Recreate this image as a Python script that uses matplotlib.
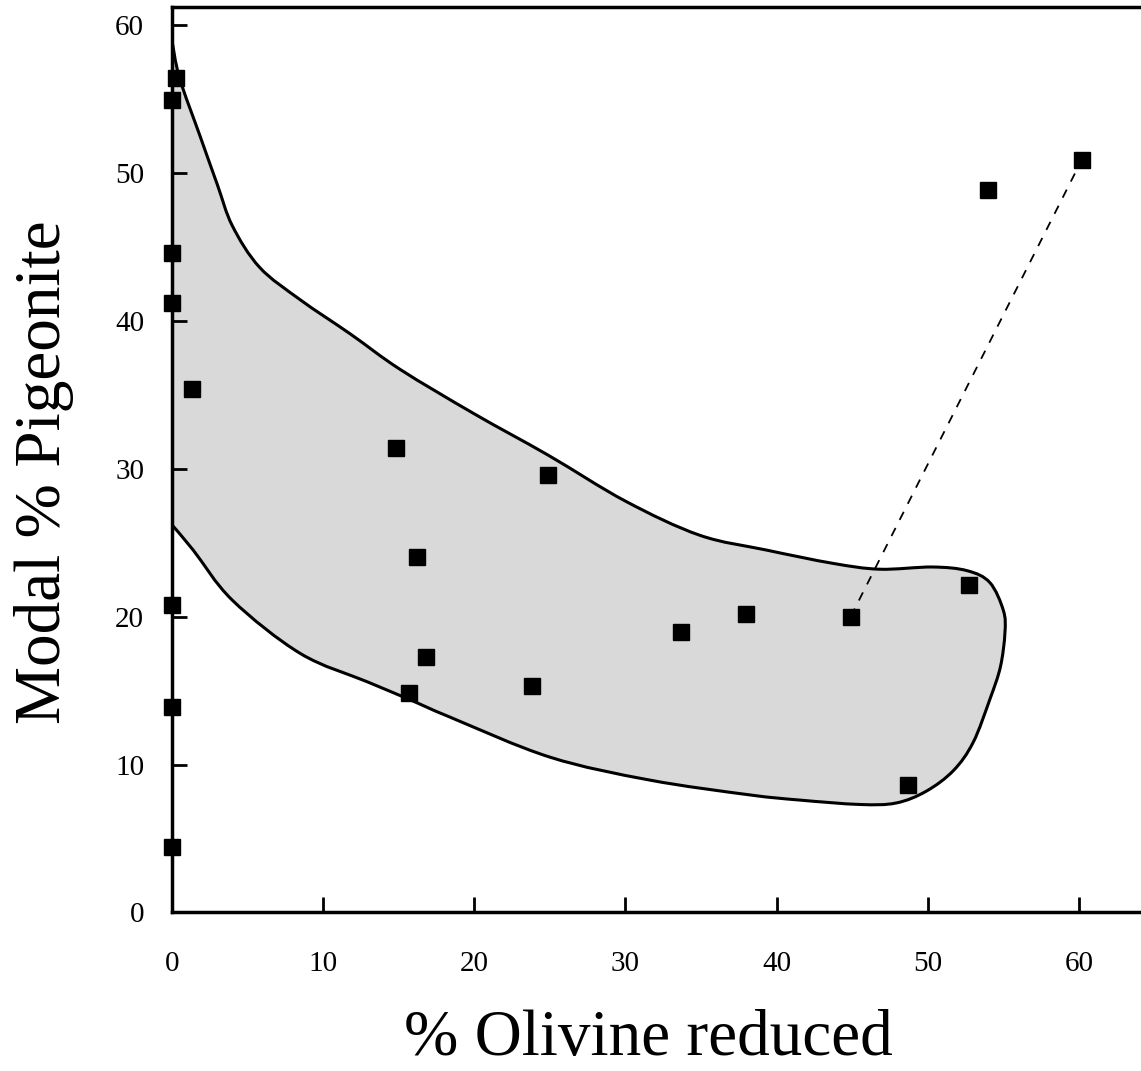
import numpy as np
import matplotlib.pyplot as plt
from matplotlib.path import Path
from matplotlib.patches import PathPatch

# data points
olivine = [0.3, 0.0, 0.0, 0.0, 0.0, 0.0, 0.0, 1.3, 14.8, 24.9, 16.2, 16.8, 15.7,
           23.8, 33.7, 38.0, 44.9, 52.7, 48.7, 54.0, 60.2]
pigeonite = [56.4, 54.9, 44.6, 41.2, 20.8, 13.9, 4.4, 35.4, 31.4, 29.6, 24.0, 17.3, 14.85,
             15.3, 18.95, 20.2, 20.0, 22.1, 8.6, 48.8, 50.85]

# dashed tie line
tie_x = [44.9, 60.2]
tie_y = [20.0, 50.9]

# outline of the shaded field (top edge -> right end -> bottom edge)
field_x = [0.0, 0.5, 1.85, 3.0, 4.0, 5.8, 8.5, 11.8, 15.1, 20.0, 24.9, 30.0, 34.9, 39.3, 43.7,
           46.8, 50.3, 52.6, 54.1, 55.0, 55.1, 54.8, 54.1, 53.0, 51.7, 49.9, 47.9, 45.5, 41.5,
           38.2, 31.6, 25.0, 18.4, 15.7, 12.9, 8.5, 4.0, 1.4, 0.0]
field_y = [58.95, 56.4, 52.5, 49.2, 46.4, 43.6, 41.4, 39.1, 36.7, 33.7, 30.9, 27.8, 25.5, 24.5, 23.6,
           23.2, 23.35, 23.1, 22.3, 20.4, 18.9, 16.6, 14.4, 11.5, 9.6, 8.2, 7.4, 7.3, 7.6,
           7.95, 8.95, 10.5, 13.2, 14.4, 15.6, 17.5, 21.1, 24.5, 26.2]


def smooth_outline(xs, ys):
    # catmull-rom through the outline points, closed straight along x = 0
    p = np.column_stack([xs, ys])
    ext = np.vstack([p[0], p, p[-1]])
    verts = [p[0]]
    codes = [Path.MOVETO]
    for i in range(1, len(ext) - 2):
        c1 = ext[i] + (ext[i + 1] - ext[i - 1]) / 6
        c2 = ext[i + 1] - (ext[i + 2] - ext[i]) / 6
        verts += [c1, c2, ext[i + 1]]
        codes += [Path.CURVE4] * 3
    verts += [p[0], p[0]]
    codes += [Path.LINETO, Path.CLOSEPOLY]
    return Path(verts, codes)


plt.rcParams['font.family'] = ['Liberation Serif', 'DejaVu Serif']

fig = plt.figure(figsize=(11.41, 10.71), dpi=100)
ax = fig.add_axes([0.1507, 0.148, 0.8493, 0.8455])

ax.add_patch(PathPatch(smooth_outline(field_x, field_y), facecolor='#d9d9d9',
                       edgecolor='black', linewidth=2.2, zorder=1))
ax.plot(tie_x, tie_y, color='black', linestyle=(0, (5, 5)), linewidth=1.3, zorder=2)
ax.plot(olivine, pigeonite, linestyle='none', marker='s', markersize=11,
        color='black', zorder=3, clip_on=False)

ax.set_xlim(0, 64.1)
ax.set_ylim(0, 61.2)
ax.set_xticks([0, 10, 20, 30, 40, 50, 60])
ax.set_yticks([0, 10, 20, 30, 40, 50, 60])
ax.tick_params(direction='in', length=11, width=2, labelsize=21)
ax.tick_params(axis='x', pad=28)
ax.tick_params(axis='y', pad=20)
ax.spines['right'].set_visible(False)
for s in ['left', 'bottom', 'top']:
    ax.spines[s].set_linewidth(2.5)

ax.set_xlabel('% Olivine reduced', fontsize=47)
ax.set_ylabel('Modal % Pigeonite', fontsize=47)
ax.xaxis.set_label_coords(0.492, -0.107)
ax.yaxis.set_label_coords(-0.101, 0.4865)

fig.savefig('out.png', dpi=100)
